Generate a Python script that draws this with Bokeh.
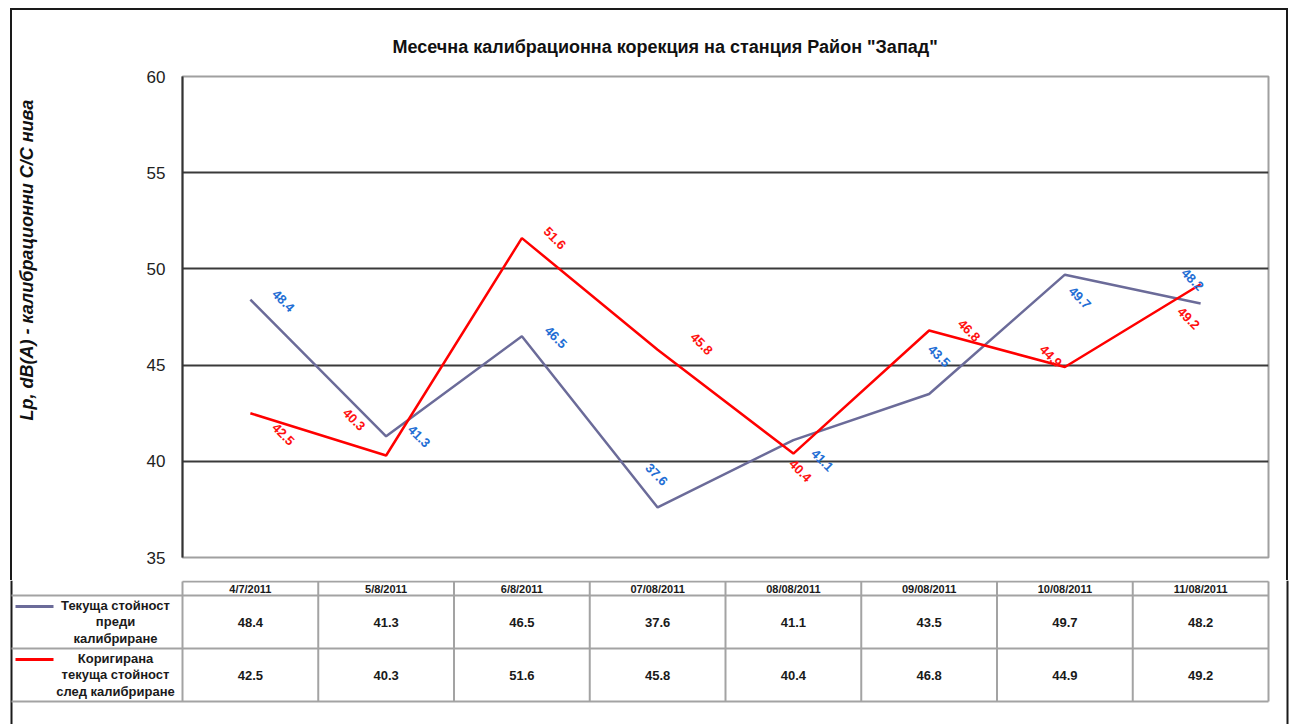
import math
from bokeh.plotting import figure
from bokeh.models import Range1d, FixedTicker, Title
from bokeh.embed import file_html
from bokeh.resources import INLINE
from bokeh.core.properties import value

# ---------------- data ----------------
dates = ["4/7/2011", "5/8/2011", "6/8/2011", "07/08/2011",
         "08/08/2011", "09/08/2011", "10/08/2011", "11/08/2011"]
before = [48.4, 41.3, 46.5, 37.6, 41.1, 43.5, 49.7, 48.2]
after = [42.5, 40.3, 51.6, 45.8, 40.4, 46.8, 44.9, 49.2]
y_ticks = [35, 40, 45, 50, 55, 60]
title_text = 'Месечна калибрационна  корекция на станция Район "Запад"'
y_label_text = "Lp, dB(A) - калибрационни С/С нива"
series_names = ["Текуща стойност\nпреди\nкалибриране",
                "Коригирана\nтекуща стойност\nслед калибриране"]

# ---------------- style / layout ----------------
BLUE_LINE = "#6B6B99"
RED_LINE = "#FF0000"
BLUE_TXT = "#1F6ED4"
RED_TXT = "#FF1010"
BORDER = "#1a1a1a"
FONT = "Liberation Sans"
# label offsets in screen pixels (dx, dy downwards)
before_off = [(33, 1), (33, 0), (34, 1), (-1, -33), (29, 20), (10, -38), (15, 23), (-8, -24)]
after_off = [(33, 21), (-32, -36), (33, 0), (44, -6), (7, 17), (40, 0), (-14, -11), (-12, 34)]

W = 1292
HA = 580
HB = 144
B_LEFT, B_RIGHT, B_TOP, B_BOTTOM = 182, 24, 76, 23
n = len(dates)
xs = [i + 0.5 for i in range(n)]
frame_w = W - B_LEFT - B_RIGHT
cw = frame_w / n                      # px per x unit


def bx(page_x):
    return (page_x - B_LEFT) / cw


# outer chart-area border (left, right, top) drawn behind the transparent border area
grad = f"linear-gradient({BORDER}, {BORDER})"
border_css = {
    "background-image": ", ".join([grad] * 3),
    "background-size": f"2px 100%, 2px 100%, {1288 - 10}px 2px",
    "background-position": "10px 8px, 1286px 8px, 10px 8px",
    "background-repeat": "no-repeat",
}

# ---------------- chart figure ----------------
pA = figure(width=W, height=HA, x_range=Range1d(0, n), y_range=Range1d(y_ticks[0], y_ticks[-1]),
            output_backend="svg", toolbar_location=None, x_axis_location=None,
            min_border_left=B_LEFT, min_border_right=B_RIGHT,
            min_border_top=B_TOP, min_border_bottom=B_BOTTOM, styles=border_css)
pA.background_fill_color = "white"
pA.border_fill_color = None
pA.outline_line_color = "#a0a0a0"
pA.outline_line_width = 2

pA.title.text = title_text
pA.title.align = "left"
pA.title.offset = 210
pA.title.vertical_align = "bottom"
pA.title.standoff = 40
pA.title.text_font = FONT
pA.title.text_font_size = "18px"
pA.title.text_font_style = "bold"
pA.title.text_color = "#111111"

yax = pA.yaxis[0]
yax.ticker = FixedTicker(ticks=y_ticks)
yax.major_label_text_font = FONT
yax.major_label_text_font_size = "17px"
yax.major_label_text_color = "#222222"
yax.major_tick_out = 0
yax.major_tick_in = 0
yax.minor_tick_out = 0
yax.minor_tick_in = 0
yax.major_label_standoff = 17
yax.axis_line_color = "#333333"
yax.axis_line_width = 2

# empty spacer between the axis and the rotated axis title
pA.add_layout(Title(text=" ", text_font_size="10px", standoff=92), "left")
ytitle = Title(text=y_label_text, align="left", offset=137, vertical_align="top", standoff=0,
               text_font=FONT, text_font_size="18px", text_font_style="bold italic",
               text_color="#111111")
pA.add_layout(ytitle, "left")

pA.xgrid.visible = False
pA.ygrid.ticker = FixedTicker(ticks=y_ticks[1:-1])
pA.ygrid.grid_line_color = "#3a3a3a"
pA.ygrid.grid_line_width = 1.8

pA.line(xs, before, line_color=BLUE_LINE, line_width=2.5)
pA.line(xs, after, line_color=RED_LINE, line_width=2.5)

pA.text(x=xs, y=before, text=[f"{v:.1f}" for v in before],
        x_offset=[o[0] for o in before_off], y_offset=[o[1] for o in before_off],
        angle=-math.pi / 4, text_align="center", text_baseline="middle",
        text_font=value(FONT), text_font_size="13px", text_font_style="bold",
        text_color=BLUE_TXT)
pA.text(x=xs, y=after, text=[f"{v:.1f}" for v in after],
        x_offset=[o[0] for o in after_off], y_offset=[o[1] for o in after_off],
        angle=-math.pi / 4, text_align="center", text_baseline="middle",
        text_font=value(FONT), text_font_size="13px", text_font_style="bold",
        text_color=RED_TXT)

# ---------------- data table figure ----------------
pB = figure(width=W, height=HB, x_range=Range1d(bx(0), bx(W)),
            y_range=Range1d(HB, 0), output_backend="svg", toolbar_location=None,
            x_axis_location=None, y_axis_location=None,
            min_border_left=0, min_border_right=0, min_border_top=0, min_border_bottom=0)
pB.outline_line_color = None
pB.grid.visible = False
pB.background_fill_color = "white"
pB.border_fill_color = "white"

head_top, head_bot, row1_bot, row2_bot = 1, 15, 68, 121
left_edge = bx(11)
GRID = "#a3a3a3"
# outer chart border continuing down
pB.segment(x0=[bx(11), bx(1287)], y0=[0, 0], x1=[bx(11), bx(1287)], y1=[HB, HB],
           line_color=BORDER, line_width=2)
# horizontal rules
pB.segment(x0=[0, left_edge, left_edge, left_edge], y0=[head_top, head_bot, row1_bot, row2_bot],
           x1=[n, n, n, n], y1=[head_top, head_bot, row1_bot, row2_bot],
           line_color=GRID, line_width=2)
# vertical rules
pB.segment(x0=list(range(n + 1)), y0=[head_top] * (n + 1),
           x1=list(range(n + 1)), y1=[row2_bot] * (n + 1),
           line_color=GRID, line_width=2)

pB.text(x=xs, y=[(head_top + head_bot) / 2] * n, text=dates, text_align="center",
        text_baseline="middle", text_font=value(FONT), text_font_size="11px",
        text_font_style="bold", text_color="#1a1a1a")
row_mid = [(head_bot + row1_bot) / 2, (row1_bot + row2_bot) / 2]
for vals, ym in zip([before, after], row_mid):
    pB.text(x=xs, y=[ym] * n, text=[f"{v:.1f}" for v in vals], text_align="center",
            text_baseline="middle", text_font=value(FONT), text_font_size="13px",
            text_font_style="bold", text_color="#1a1a1a")

pB.text(x=[bx(115)] * 2, y=row_mid, text=series_names, text_align="center",
        text_baseline="middle", text_font=value(FONT), text_font_size="13px",
        text_font_style="bold", text_color="#1a1a1a", text_line_height=1.12)
pB.segment(x0=[bx(15)] * 2, y0=[head_bot + 11, row1_bot + 11],
           x1=[bx(53)] * 2, y1=[head_bot + 11, row1_bot + 11],
           line_color=[BLUE_LINE, RED_LINE], line_width=3)

with open("out.html", "w") as f:
    f.write(file_html([pA, pB], INLINE))
